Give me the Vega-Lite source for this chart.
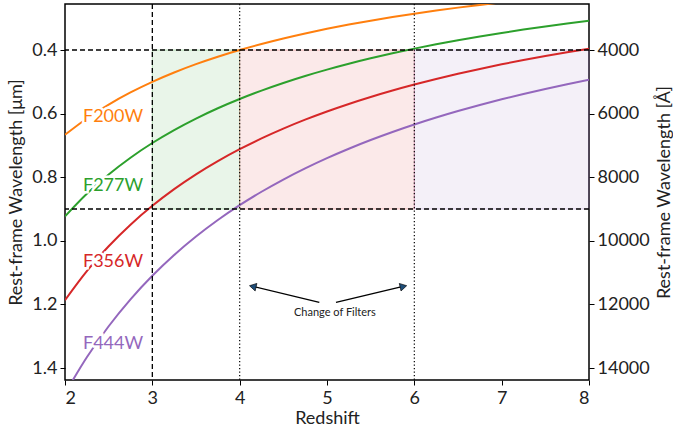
{
  "$schema": "https://vega.github.io/schema/vega-lite/v6.json",
  "width": 524,
  "height": 376,
  "autosize": "none",
  "padding": {"left": 65, "top": 4, "right": 84, "bottom": 46},
  "background": "white",
  "config": {
    "font": "Lato",
    "view": {"stroke": "black", "strokeWidth": 1.5},
    "axis": {
      "domain": false,
      "grid": false,
      "ticks": true,
      "tickColor": "black",
      "tickSize": 5,
      "tickWidth": 1,
      "labelFont": "Lato",
      "labelFontSize": 18,
      "labelColor": "#222222",
      "titleFont": "Lato",
      "titleFontSize": 18,
      "titleFontWeight": "normal",
      "titleColor": "#222222"
    }
  },
  "datasets": {
    "curves": [
      {"filter": "F200W", "z": 2.0, "lam": 0.6667}, {"filter": "F200W", "z": 2.25, "lam": 0.6154}, {"filter": "F200W", "z": 2.5, "lam": 0.5714}, {"filter": "F200W", "z": 2.75, "lam": 0.5333}, {"filter": "F200W", "z": 3.0, "lam": 0.5}, {"filter": "F200W", "z": 3.25, "lam": 0.4706}, {"filter": "F200W", "z": 3.5, "lam": 0.4444}, {"filter": "F200W", "z": 3.75, "lam": 0.4211}, {"filter": "F200W", "z": 4.0, "lam": 0.4}, {"filter": "F200W", "z": 4.25, "lam": 0.381}, {"filter": "F200W", "z": 4.5, "lam": 0.3636}, {"filter": "F200W", "z": 4.75, "lam": 0.3478}, {"filter": "F200W", "z": 5.0, "lam": 0.3333}, {"filter": "F200W", "z": 5.25, "lam": 0.32}, {"filter": "F200W", "z": 5.5, "lam": 0.3077}, {"filter": "F200W", "z": 5.75, "lam": 0.2963}, {"filter": "F200W", "z": 6.0, "lam": 0.2857}, {"filter": "F200W", "z": 6.25, "lam": 0.2759}, {"filter": "F200W", "z": 6.5, "lam": 0.2667}, {"filter": "F200W", "z": 6.75, "lam": 0.2581}, {"filter": "F200W", "z": 7.0, "lam": 0.25},
      {"filter": "F277W", "z": 2.0, "lam": 0.9233}, {"filter": "F277W", "z": 2.25, "lam": 0.8523}, {"filter": "F277W", "z": 2.5, "lam": 0.7914}, {"filter": "F277W", "z": 2.75, "lam": 0.7387}, {"filter": "F277W", "z": 3.0, "lam": 0.6925}, {"filter": "F277W", "z": 3.25, "lam": 0.6518}, {"filter": "F277W", "z": 3.5, "lam": 0.6156}, {"filter": "F277W", "z": 3.75, "lam": 0.5832}, {"filter": "F277W", "z": 4.0, "lam": 0.554}, {"filter": "F277W", "z": 4.25, "lam": 0.5276}, {"filter": "F277W", "z": 4.5, "lam": 0.5036}, {"filter": "F277W", "z": 4.75, "lam": 0.4817}, {"filter": "F277W", "z": 5.0, "lam": 0.4617}, {"filter": "F277W", "z": 5.25, "lam": 0.4432}, {"filter": "F277W", "z": 5.5, "lam": 0.4262}, {"filter": "F277W", "z": 5.75, "lam": 0.4104}, {"filter": "F277W", "z": 6.0, "lam": 0.3957}, {"filter": "F277W", "z": 6.25, "lam": 0.3821}, {"filter": "F277W", "z": 6.5, "lam": 0.3693}, {"filter": "F277W", "z": 6.75, "lam": 0.3574}, {"filter": "F277W", "z": 7.0, "lam": 0.3463}, {"filter": "F277W", "z": 7.25, "lam": 0.3358}, {"filter": "F277W", "z": 7.5, "lam": 0.3259}, {"filter": "F277W", "z": 7.75, "lam": 0.3166}, {"filter": "F277W", "z": 8.0, "lam": 0.3078},
      {"filter": "F356W", "z": 2.0, "lam": 1.1867}, {"filter": "F356W", "z": 2.25, "lam": 1.0954}, {"filter": "F356W", "z": 2.5, "lam": 1.0171}, {"filter": "F356W", "z": 2.75, "lam": 0.9493}, {"filter": "F356W", "z": 3.0, "lam": 0.89}, {"filter": "F356W", "z": 3.25, "lam": 0.8376}, {"filter": "F356W", "z": 3.5, "lam": 0.7911}, {"filter": "F356W", "z": 3.75, "lam": 0.7495}, {"filter": "F356W", "z": 4.0, "lam": 0.712}, {"filter": "F356W", "z": 4.25, "lam": 0.6781}, {"filter": "F356W", "z": 4.5, "lam": 0.6473}, {"filter": "F356W", "z": 4.75, "lam": 0.6191}, {"filter": "F356W", "z": 5.0, "lam": 0.5933}, {"filter": "F356W", "z": 5.25, "lam": 0.5696}, {"filter": "F356W", "z": 5.5, "lam": 0.5477}, {"filter": "F356W", "z": 5.75, "lam": 0.5274}, {"filter": "F356W", "z": 6.0, "lam": 0.5086}, {"filter": "F356W", "z": 6.25, "lam": 0.491}, {"filter": "F356W", "z": 6.5, "lam": 0.4747}, {"filter": "F356W", "z": 6.75, "lam": 0.4594}, {"filter": "F356W", "z": 7.0, "lam": 0.445}, {"filter": "F356W", "z": 7.25, "lam": 0.4315}, {"filter": "F356W", "z": 7.5, "lam": 0.4188}, {"filter": "F356W", "z": 7.75, "lam": 0.4069}, {"filter": "F356W", "z": 8.0, "lam": 0.3956},
      {"filter": "F444W", "z": 2.0, "lam": 1.48}, {"filter": "F444W", "z": 2.25, "lam": 1.3662}, {"filter": "F444W", "z": 2.5, "lam": 1.2686}, {"filter": "F444W", "z": 2.75, "lam": 1.184}, {"filter": "F444W", "z": 3.0, "lam": 1.11}, {"filter": "F444W", "z": 3.25, "lam": 1.0447}, {"filter": "F444W", "z": 3.5, "lam": 0.9867}, {"filter": "F444W", "z": 3.75, "lam": 0.9347}, {"filter": "F444W", "z": 4.0, "lam": 0.888}, {"filter": "F444W", "z": 4.25, "lam": 0.8457}, {"filter": "F444W", "z": 4.5, "lam": 0.8073}, {"filter": "F444W", "z": 4.75, "lam": 0.7722}, {"filter": "F444W", "z": 5.0, "lam": 0.74}, {"filter": "F444W", "z": 5.25, "lam": 0.7104}, {"filter": "F444W", "z": 5.5, "lam": 0.6831}, {"filter": "F444W", "z": 5.75, "lam": 0.6578}, {"filter": "F444W", "z": 6.0, "lam": 0.6343}, {"filter": "F444W", "z": 6.25, "lam": 0.6124}, {"filter": "F444W", "z": 6.5, "lam": 0.592}, {"filter": "F444W", "z": 6.75, "lam": 0.5729}, {"filter": "F444W", "z": 7.0, "lam": 0.555}, {"filter": "F444W", "z": 7.25, "lam": 0.5382}, {"filter": "F444W", "z": 7.5, "lam": 0.5224}, {"filter": "F444W", "z": 7.75, "lam": 0.5074}, {"filter": "F444W", "z": 8.0, "lam": 0.4933}
    ],
    "labels": [
      {"filter": "F200W", "z": 2.55, "lam": 0.611},
      {"filter": "F277W", "z": 2.55, "lam": 0.828},
      {"filter": "F356W", "z": 2.55, "lam": 1.067},
      {"filter": "F444W", "z": 2.55, "lam": 1.325}
    ],
    "boxes": [
      {"filter": "F277W", "z": 3, "z2": 4, "lam": 0.4, "lam2": 0.9},
      {"filter": "F356W", "z": 4, "z2": 6, "lam": 0.4, "lam2": 0.9},
      {"filter": "F444W", "z": 6, "z2": 8, "lam": 0.4, "lam2": 0.9}
    ],
    "hlines": [{"lam": 0.4}, {"lam": 0.9}],
    "vdashed": [{"z": 3}],
    "vdotted": [{"z": 4}, {"z": 6}],
    "arrows": [
      {"z": 4.912, "lam": 1.1934, "z2": 4.13, "lam2": 1.1418},
      {"z": 5.103, "lam": 1.1934, "z2": 5.895, "lam2": 1.1418}
    ],
    "headL": [{"z": 4.15, "lam": 1.1435}],
    "headR": [{"z": 5.875, "lam": 1.1435}],
    "note": [{"z": 5.09, "lam": 1.228, "text": "Change of Filters"}],
    "right": [{"A": 4000}]
  },
  "layer": [
    {
      "layer": [
        {
          "data": {"name": "boxes"},
          "mark": {"type": "rect", "fillOpacity": 0.1, "strokeOpacity": 0.3, "strokeWidth": 1},
          "encoding": {
            "x": {"field": "z", "type": "quantitative", "scale": {"domain": [2, 8], "nice": false, "zero": false},
              "axis": {"values": [2, 3, 4, 5, 6, 7, 8], "format": "d", "title": "Redshift", "labelPadding": 4, "titlePadding": 2}},
            "x2": {"field": "z2"},
            "y": {"field": "lam", "type": "quantitative", "scale": {"domain": [0.2553, 1.4377], "reverse": true, "nice": false, "zero": false},
              "axis": {"orient": "left", "values": [0.4, 0.6, 0.8, 1.0, 1.2, 1.4], "format": ".1f", "title": "Rest-frame Wavelength [μm]", "labelPadding": 3, "titlePadding": 6}},
            "y2": {"field": "lam2"},
            "fill": {"field": "filter", "type": "nominal", "legend": null,
              "scale": {"domain": ["F200W", "F277W", "F356W", "F444W"], "range": ["#ff7f0e", "#2ca02c", "#d62728", "#9467bd"]}},
            "stroke": {"field": "filter", "type": "nominal", "legend": null,
              "scale": {"domain": ["F200W", "F277W", "F356W", "F444W"], "range": ["#ff7f0e", "#2ca02c", "#d62728", "#9467bd"]}}
          }
        },
        {
          "data": {"name": "curves"},
          "mark": {"type": "line", "strokeWidth": 2, "interpolate": "monotone", "clip": true},
          "encoding": {
            "x": {"field": "z", "type": "quantitative", "title": "Redshift"},
            "y": {"field": "lam", "type": "quantitative", "title": "Rest-frame Wavelength [μm]"},
            "stroke": {"field": "filter", "type": "nominal", "legend": null,
              "scale": {"domain": ["F200W", "F277W", "F356W", "F444W"], "range": ["#ff7f0e", "#2ca02c", "#d62728", "#9467bd"]}}
          }
        },
        {
          "data": {"name": "hlines"},
          "mark": {"type": "rule", "color": "black", "strokeWidth": 1.3, "strokeDash": [5, 3]},
          "encoding": {
            "y": {"field": "lam", "type": "quantitative", "title": "Rest-frame Wavelength [μm]"}
          }
        },
        {
          "data": {"name": "vdashed"},
          "mark": {"type": "rule", "color": "black", "strokeWidth": 1.3, "strokeDash": [5, 3]},
          "encoding": {
            "x": {"field": "z", "type": "quantitative", "title": "Redshift"}
          }
        },
        {
          "data": {"name": "vdotted"},
          "mark": {"type": "rule", "color": "black", "strokeWidth": 1.2, "strokeDash": [1.3, 2.2]},
          "encoding": {
            "x": {"field": "z", "type": "quantitative", "title": "Redshift"}
          }
        },
        {
          "data": {"name": "labels"},
          "mark": {"type": "text", "fontSize": 18, "font": "Lato", "fill": "white", "stroke": "white", "strokeWidth": 5, "align": "center", "baseline": "middle"},
          "encoding": {
            "x": {"field": "z", "type": "quantitative", "title": "Redshift"},
            "y": {"field": "lam", "type": "quantitative", "title": "Rest-frame Wavelength [μm]"},
            "text": {"field": "filter"}
          }
        },
        {
          "data": {"name": "labels"},
          "mark": {"type": "text", "fontSize": 18, "font": "Lato", "align": "center", "baseline": "middle"},
          "encoding": {
            "x": {"field": "z", "type": "quantitative", "title": "Redshift"},
            "y": {"field": "lam", "type": "quantitative", "title": "Rest-frame Wavelength [μm]"},
            "text": {"field": "filter"},
            "color": {"field": "filter", "type": "nominal", "legend": null,
              "scale": {"domain": ["F200W", "F277W", "F356W", "F444W"], "range": ["#ff7f0e", "#2ca02c", "#d62728", "#9467bd"]}}
          }
        },
        {
          "data": {"name": "arrows"},
          "mark": {"type": "rule", "color": "black", "strokeWidth": 1.4},
          "encoding": {
            "x": {"field": "z", "type": "quantitative", "title": "Redshift"},
            "y": {"field": "lam", "type": "quantitative", "title": "Rest-frame Wavelength [μm]"},
            "x2": {"field": "z2"},
            "y2": {"field": "lam2"}
          }
        },
        {
          "data": {"name": "headL"},
          "mark": {"type": "point", "shape": "triangle-up", "filled": true, "size": 60, "angle": 283, "color": "#1f4e79", "opacity": 1, "stroke": "black", "strokeWidth": 0.6},
          "encoding": {
            "x": {"field": "z", "type": "quantitative", "title": "Redshift"},
            "y": {"field": "lam", "type": "quantitative", "title": "Rest-frame Wavelength [μm]"}
          }
        },
        {
          "data": {"name": "headR"},
          "mark": {"type": "point", "shape": "triangle-up", "filled": true, "size": 60, "angle": 77, "color": "#1f4e79", "opacity": 1, "stroke": "black", "strokeWidth": 0.6},
          "encoding": {
            "x": {"field": "z", "type": "quantitative", "title": "Redshift"},
            "y": {"field": "lam", "type": "quantitative", "title": "Rest-frame Wavelength [μm]"}
          }
        },
        {
          "data": {"name": "note"},
          "mark": {"type": "text", "fontSize": 11, "font": "Lato", "color": "#222222", "align": "center", "baseline": "middle"},
          "encoding": {
            "x": {"field": "z", "type": "quantitative", "title": "Redshift"},
            "y": {"field": "lam", "type": "quantitative", "title": "Rest-frame Wavelength [μm]"},
            "text": {"field": "text"}
          }
        }
      ]
    },
    {
      "data": {"name": "right"},
      "mark": {"type": "rule", "opacity": 0},
      "encoding": {
        "y": {"field": "A", "type": "quantitative",
          "scale": {"domain": [2553, 14377], "reverse": true, "nice": false, "zero": false},
          "axis": {"orient": "right", "values": [4000, 6000, 8000, 10000, 12000, 14000], "format": "d", "title": "Rest-frame Wavelength [Å]", "titleAngle": 270, "titleBaseline": "top", "labelPadding": 3, "titlePadding": 6}}
      }
    }
  ],
  "resolve": {"scale": {"y": "independent"}, "axis": {"y": "independent"}}
}
